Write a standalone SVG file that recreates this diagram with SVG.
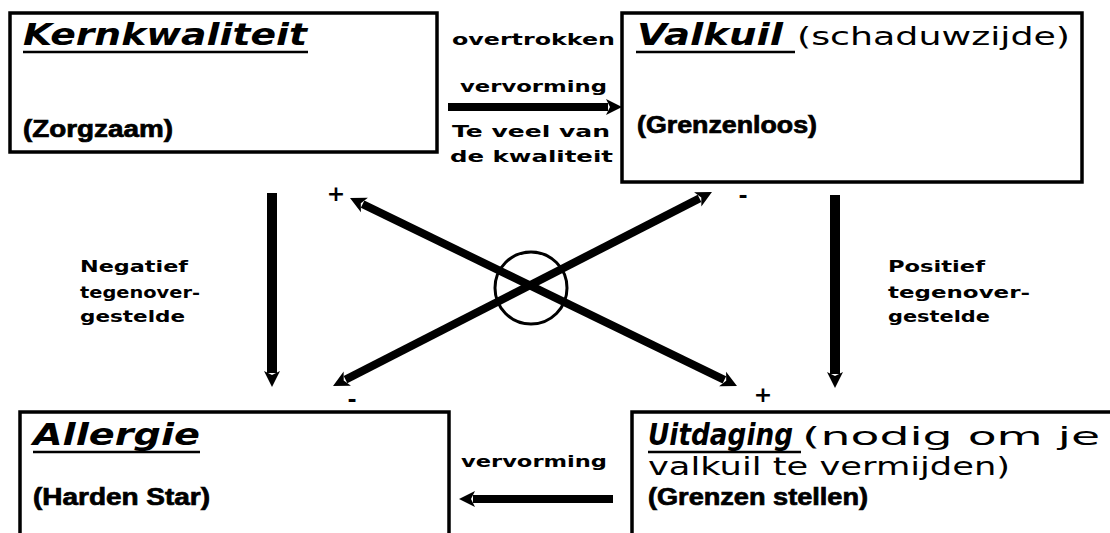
<svg xmlns="http://www.w3.org/2000/svg" width="1110" height="533" viewBox="0 0 1110 533">
  <style>
    .box { fill: #fff; stroke: #000; stroke-width: 3.5; }
    .title { font-family: "DejaVu Sans", sans-serif; font-weight: bold; font-style: italic; font-size: 30px; fill: #000; }
    .uline { stroke: #000; stroke-width: 2.5; }
    .note { font-family: "DejaVu Sans", sans-serif; font-size: 25px; fill: #000; }
    .example { font-family: "Liberation Sans", Arial, sans-serif; font-weight: bold; font-size: 23px; fill: #000; stroke: #000; stroke-width: 0.7; }
    .label { font-family: "DejaVu Sans", sans-serif; font-weight: bold; font-size: 16.5px; fill: #000; }
    .sign { font-family: "DejaVu Sans", sans-serif; font-weight: bold; font-size: 22px; fill: #000; }
    .arrow { stroke: #000; fill: none; }
  </style>
  <defs>
    <marker id="head" markerUnits="userSpaceOnUse" viewBox="-2 -10 22 20" markerWidth="22" markerHeight="20" refX="2" refY="0" orient="auto-start-reverse">
      <path d="M0,-8 L16,0 L0,8 L4,0 Z" fill="#000"/>
    </marker>
  </defs>

  <rect width="1110" height="533" fill="#fff"/>

  <!-- Kernkwaliteit -->
  <g id="kernkwaliteit">
    <rect class="box" x="10" y="13" width="427" height="139"/>
    <text class="title" x="23" y="45" textLength="284" lengthAdjust="spacingAndGlyphs">Kernkwaliteit</text>
    <line class="uline" x1="23" y1="52" x2="308" y2="52"/>
    <text class="example" x="23" y="137" textLength="150" lengthAdjust="spacingAndGlyphs">(Zorgzaam)</text>
  </g>

  <!-- Valkuil -->
  <g id="valkuil">
    <rect class="box" x="622" y="13" width="460" height="169"/>
    <text class="title" x="637" y="45" textLength="146" lengthAdjust="spacingAndGlyphs">Valkuil</text>
    <line class="uline" x1="636" y1="52" x2="795" y2="52"/>
    <text class="note" x="797" y="45" textLength="273" lengthAdjust="spacingAndGlyphs">(schaduwzijde)</text>
    <text class="example" x="637" y="133" textLength="180" lengthAdjust="spacingAndGlyphs">(Grenzenloos)</text>
  </g>

  <!-- Allergie -->
  <g id="allergie">
    <rect class="box" x="20" y="412" width="429" height="130"/>
    <text class="title" x="33" y="445" textLength="167" lengthAdjust="spacingAndGlyphs">Allergie</text>
    <line class="uline" x1="33" y1="452" x2="200" y2="452"/>
    <text class="example" x="33" y="505" textLength="177" lengthAdjust="spacingAndGlyphs">(Harden Star)</text>
  </g>

  <!-- Uitdaging -->
  <g id="uitdaging">
    <rect class="box" x="632" y="412" width="490" height="130"/>
    <text class="title" x="648" y="445" textLength="145" lengthAdjust="spacingAndGlyphs">Uitdaging</text>
    <line class="uline" x1="648" y1="452" x2="801" y2="452"/>
    <text class="note" x="802" y="445" textLength="298" lengthAdjust="spacingAndGlyphs">(nodig om je</text>
    <text class="note" x="648" y="475" textLength="362" lengthAdjust="spacingAndGlyphs">valkuil te vermijden)</text>
    <text class="example" x="648" y="505" textLength="220" lengthAdjust="spacingAndGlyphs">(Grenzen stellen)</text>
  </g>

  <!-- Connectors -->
  <g id="connectors">
    <line class="arrow" x1="448" y1="107" x2="608" y2="107" stroke-width="8" marker-end="url(#head)"/>
    <line class="arrow" x1="613" y1="499" x2="473" y2="499" stroke-width="8" marker-end="url(#head)"/>
    <line class="arrow" x1="272" y1="193" x2="272" y2="373" stroke-width="10" marker-end="url(#head)"/>
    <line class="arrow" x1="835" y1="195" x2="835" y2="374" stroke-width="10" marker-end="url(#head)"/>
    <line class="arrow" x1="362.6" y1="204.1" x2="724.4" y2="379.9" stroke-width="8" marker-start="url(#head)" marker-end="url(#head)"/>
    <line class="arrow" x1="699.5" y1="198.4" x2="345.5" y2="379.6" stroke-width="8" marker-start="url(#head)" marker-end="url(#head)"/>
    <ellipse cx="531" cy="288" rx="36" ry="36" fill="none" stroke="#000" stroke-width="3"/>
  </g>

  <!-- Connector labels -->
  <g id="labels">
    <text class="label" x="452" y="45" textLength="163" lengthAdjust="spacingAndGlyphs">overtrokken</text>
    <text class="label" x="460" y="92" textLength="147" lengthAdjust="spacingAndGlyphs">vervorming</text>
    <text class="label" x="452" y="137" textLength="158" lengthAdjust="spacingAndGlyphs">Te veel van</text>
    <text class="label" x="450" y="162" textLength="163" lengthAdjust="spacingAndGlyphs">de kwaliteit</text>
    <text class="label" x="461" y="467" textLength="146" lengthAdjust="spacingAndGlyphs">vervorming</text>
    <text class="label" x="80" y="272" textLength="108" lengthAdjust="spacingAndGlyphs">Negatief</text>
    <text class="label" x="80" y="298" textLength="120" lengthAdjust="spacingAndGlyphs">tegenover-</text>
    <text class="label" x="80" y="322" textLength="105" lengthAdjust="spacingAndGlyphs">gestelde</text>
    <text class="label" x="888" y="272" textLength="97" lengthAdjust="spacingAndGlyphs">Positief</text>
    <text class="label" x="888" y="298" textLength="142" lengthAdjust="spacingAndGlyphs">tegenover-</text>
    <text class="label" x="888" y="322" textLength="102" lengthAdjust="spacingAndGlyphs">gestelde</text>
    <text class="sign" x="336" y="201" text-anchor="middle">+</text>
    <text class="sign" x="743" y="203" text-anchor="middle">-</text>
    <text class="sign" x="352" y="407" text-anchor="middle">-</text>
    <text class="sign" x="763" y="402" text-anchor="middle">+</text>
  </g>
</svg>
